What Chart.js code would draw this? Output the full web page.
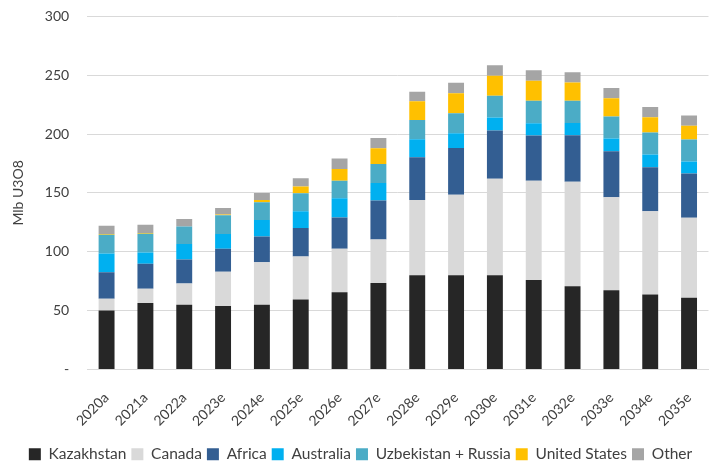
<!DOCTYPE html>
<html lang="en">
<head>
<meta charset="UTF-8">
<title>Uranium supply</title>
<style>
  html, body { margin: 0; padding: 0; background: #fff; }
  #wrap { width: 713px; height: 463px; overflow: hidden; }
  #supplyChart { display: block; margin-top: -10px; }
</style>
</head>
<body>
<div id="wrap"><canvas id="supplyChart" width="713" height="482"></canvas></div>

<script src="https://cdn.jsdelivr.net/npm/chart.js"></script>
<script>
const years = ['2020a', '2021a', '2022a', '2023e', '2024e', '2025e', '2026e', '2027e',
  '2028e', '2029e', '2030e', '2031e', '2032e', '2033e', '2034e', '2035e'];

const kazakhstan = [50, 56.5, 55, 54, 55, 59.5, 65.5, 73.5, 80, 80, 80, 76, 70.7, 67.3, 63.7, 61];
const canada     = [10, 12, 18, 29, 36, 36.5, 37, 37, 64, 68.5, 82, 84.4, 88.7, 79, 70.7, 67.8];
const africa     = [22.5, 21.3, 20.5, 19.6, 22, 24.2, 26.7, 33, 36.3, 39.7, 41, 38.4, 39.5, 39.2, 37.5, 37.6];
const australia  = [16, 9.6, 13, 12.5, 14, 14.2, 16.2, 15, 15.4, 12.5, 11, 10.5, 10.5, 10.8, 10.7, 10.2];
const uzbRussia  = [16, 16, 15, 16, 15, 15.3, 15, 16, 16.2, 17, 18.5, 19, 19, 18.7, 18.8, 18.7];
const unitedStates = [0.5, 0.5, 0, 0.5, 2, 5.7, 10, 13.4, 16, 17, 17, 17, 15.4, 15.4, 12.8, 11.7];
const other      = [7, 7, 6.3, 5.5, 6, 7, 8.8, 8.8, 8, 9, 9, 9, 8.8, 8.8, 8.8, 8.8];

const series = [
  { label: 'Kazakhstan', data: kazakhstan, color: '#262626' },
  { label: 'Canada', data: canada, color: '#d9d9d9' },
  { label: 'Africa', data: africa, color: '#335e92' },
  { label: 'Australia', data: australia, color: '#00b0f0' },
  { label: 'Uzbekistan + Russia', data: uzbRussia, color: '#4bacc6' },
  { label: 'United States', data: unitedStates, color: '#ffc000' },
  { label: 'Other', data: other, color: '#a5a5a5' }
];

Chart.defaults.font.family = 'Lato, "Open Sans", sans-serif';
Chart.defaults.font.size = 14;
Chart.defaults.color = '#404040';

new Chart(document.getElementById('supplyChart'), {
  type: 'bar',
  data: {
    labels: years,
    datasets: series.map(s => ({
      label: s.label,
      data: s.data,
      backgroundColor: s.color,
      borderWidth: 0,
      barPercentage: 0.82,
      categoryPercentage: 0.5
    }))
  },
  options: {
    responsive: false,
    animation: false,
    layout: { padding: { top: -4, right: 2, left: 10, bottom: 0 } },
    scales: {
      x: {
        stacked: true,
        grid: { display: false },
        border: { color: '#d9d9d9' },
        ticks: { maxRotation: 45, minRotation: 45, color: '#404040', padding: 12 }
      },
      y: {
        stacked: true,
        min: 0,
        max: 300,
        grid: { color: '#d9d9d9', drawTicks: false },
        border: { display: false },
        ticks: {
          stepSize: 50,
          padding: 18,
          color: '#404040',
          callback: v => v === 0 ? '-' : v
        },
        title: { display: true, text: 'Mlb U3O8', color: '#404040', padding: { top: 0, bottom: 0 } }
      }
    },
    plugins: {
      legend: {
        position: 'bottom',
        labels: { boxWidth: 12, boxHeight: 12, padding: 5, color: '#404040', font: { size: 15.5 } }
      },
      tooltip: { enabled: false }
    }
  }
});
</script>
</body>
</html>
